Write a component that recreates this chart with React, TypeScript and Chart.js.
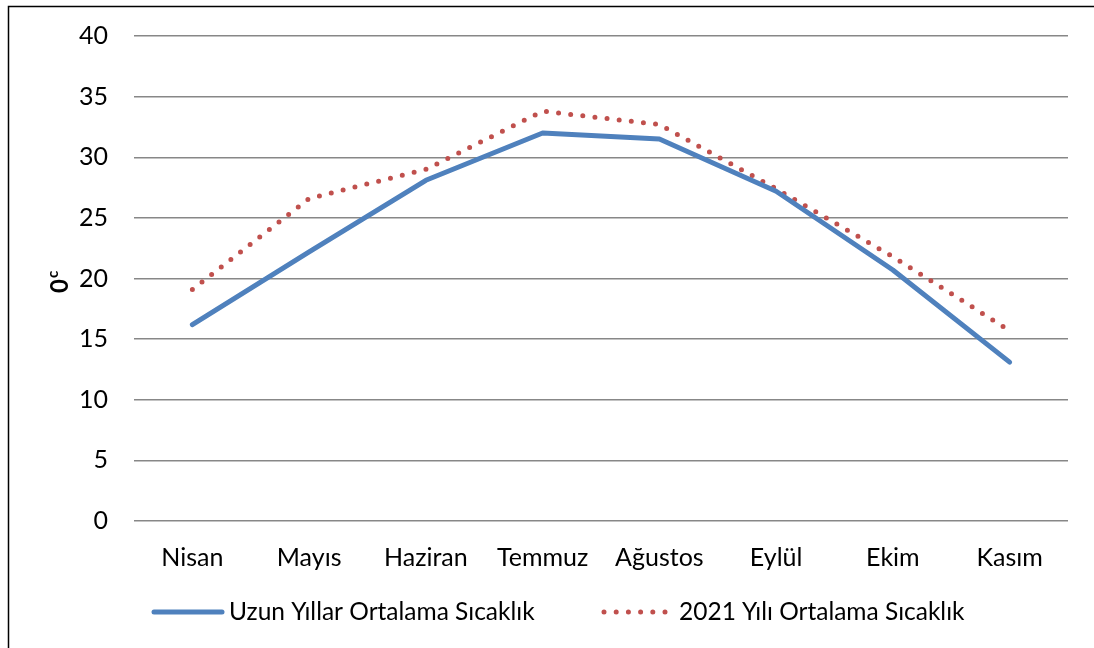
import React, { useEffect, useRef } from "react";
import { Chart, registerables } from "chart.js";

Chart.register(...registerables);

const categories = ["Nisan", "Mayıs", "Haziran", "Temmuz", "Ağustos", "Eylül", "Ekim", "Kasım"];
const longTermAvg = [16.2, 22.2, 28.1, 32.0, 31.5, 27.2, 20.7, 13.1];
const avg2021 = [19.1, 26.6, 29.0, 33.8, 32.7, 27.4, 21.8, 15.7];
const seriesNames = ["Uzun Yıllar Ortalama Sıcaklık", "2021 Yılı Ortalama Sıcaklık"];
const yTicks = [0, 5, 10, 15, 20, 25, 30, 35, 40];

const FONT = "Lato, 'Open Sans', sans-serif";
const BLUE = "#4F81BD";
const RED = "#C0504D";

const decorPlugin = {
  id: "decor",
  afterDraw(chart: any) {
    const ctx = chart.ctx as CanvasRenderingContext2D;
    ctx.save();
    // frame (left + top)
    ctx.strokeStyle = "#000";
    ctx.lineWidth = 1.5;
    ctx.beginPath();
    ctx.moveTo(8.5, 648);
    ctx.lineTo(8.5, 6.5);
    ctx.lineTo(1094, 6.5);
    ctx.stroke();

    // y title "0c"
    ctx.translate(60, 281);
    ctx.rotate(-Math.PI / 2);
    ctx.fillStyle = "#000";
    ctx.textBaseline = "middle";
    ctx.textAlign = "left";
    ctx.font = `bold 24px ${FONT}`;
    const w0 = ctx.measureText("0").width;
    ctx.fillText("0", -w0 / 2 - 5, 0);
    ctx.font = `bold 15px ${FONT}`;
    ctx.fillText("c", w0 / 2 - 4, -7);
    ctx.restore();

    // legend
    ctx.save();
    const ly = 612;
    ctx.lineCap = "round";
    ctx.strokeStyle = BLUE;
    ctx.lineWidth = 5;
    ctx.beginPath();
    ctx.moveTo(154, ly);
    ctx.lineTo(222, ly);
    ctx.stroke();
    ctx.strokeStyle = RED;
    ctx.lineWidth = 5;
    ctx.setLineDash([0, 12.2]);
    ctx.beginPath();
    ctx.moveTo(604, ly);
    ctx.lineTo(666, ly);
    ctx.stroke();
    ctx.setLineDash([]);
    ctx.fillStyle = "#000";
    ctx.font = `24.5px ${FONT}`;
    ctx.textBaseline = "middle";
    ctx.textAlign = "left";
    ctx.fillText(seriesNames[0], 229, ly);
    ctx.fillText(seriesNames[1], 679, ly);
    ctx.restore();
  },
};

export default function App() {
  const ref = useRef<HTMLCanvasElement | null>(null);
  useEffect(() => {
    document.body.style.margin = "0";
    const chart = new Chart(ref.current!, {
      type: "line",
      data: {
        labels: categories,
        datasets: [
          {
            label: seriesNames[0],
            data: longTermAvg,
            borderColor: BLUE,
            backgroundColor: BLUE,
            borderWidth: 5,
            borderCapStyle: "round",
            borderJoinStyle: "round",
            pointRadius: 0,
            tension: 0,
          },
          {
            label: seriesNames[1],
            data: avg2021,
            borderColor: RED,
            backgroundColor: RED,
            borderWidth: 5,
            borderDash: [0, 12.2],
            borderCapStyle: "round",
            borderJoinStyle: "round",
            pointRadius: 0,
            tension: 0,
          },
        ],
      },
      options: {
        animation: false,
        responsive: false,
        layout: { padding: { left: 0, right: 26, top: 36, bottom: 0 } },
        plugins: { legend: { display: false }, tooltip: { enabled: false } },
        scales: {
          x: {
            offset: true,
            grid: { display: false },
            border: { display: false },
            ticks: { color: "#000", font: { family: FONT, size: 25 }, padding: 14, maxRotation: 0 },
            afterFit: (s: any) => {
              s.height = 127;
              s.paddingLeft = 0;
              s.paddingRight = 0;
            },
          },
          y: {
            min: 0,
            max: 40,
            afterBuildTicks: (s: any) => {
              s.ticks = yTicks.map((v) => ({ value: v }));
            },
            grid: { color: "#878787", lineWidth: 1.5, drawTicks: false },
            border: { display: false },
            ticks: { color: "#000", font: { family: FONT, size: 25 }, padding: 26 },
            afterFit: (s: any) => {
              s.width = 134;
              s.paddingTop = 0;
              s.paddingBottom = 0;
            },
          },
        },
      },
      plugins: [decorPlugin],
    });
    return () => chart.destroy();
  }, []);
  return <canvas ref={ref} width={1094} height={648} style={{ display: "block" }} />;
}
